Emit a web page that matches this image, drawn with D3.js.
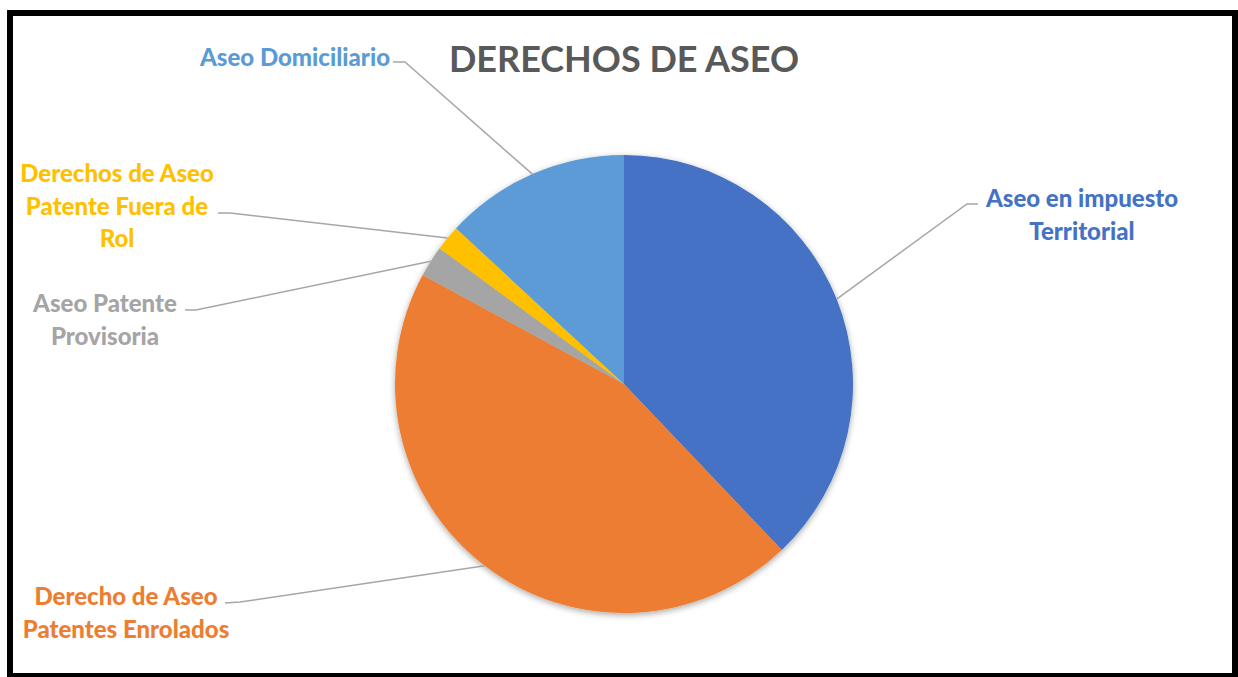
<!DOCTYPE html>
<html>
<head>
<meta charset="utf-8">
<script src="https://cdn.jsdelivr.net/npm/d3@7"></script>
<style>
  html, body { margin: 0; padding: 0; background: #fff; }
  text { font-family: Lato, "Open Sans", sans-serif; font-weight: bold; }
</style>
</head>
<body>
<div id="chart"></div>
<script>
// Slice data, clockwise from 12 o'clock
const categories = [
  'Aseo en impuesto Territorial',
  'Derecho de Aseo Patentes Enrolados',
  'Aseo Patente Provisoria',
  'Derechos de Aseo Patente Fuera de Rol',
  'Aseo Domiciliario'
];
const values = [37.9, 45.0, 2.2, 1.8, 13.1];
const labelLines = [
  ['Aseo en impuesto', 'Territorial'],
  ['Derecho de Aseo', 'Patentes Enrolados'],
  ['Aseo Patente', 'Provisoria'],
  ['Derechos de Aseo', 'Patente Fuera de', 'Rol'],
  ['Aseo Domiciliario']
];
const colors = ['#4472C4', '#ED7D31', '#A5A5A5', '#FFC000', '#5B9BD5'];

// Label placement (text centre, leader elbow and end)
const labelLayout = [
  { x: 1082, y: 197, anchor: 'middle', elbow: [967, 204], end: [978, 204] },
  { x: 126, y: 595, anchor: 'middle', elbow: [240, 602], end: [225, 603] },
  { x: 105, y: 302, anchor: 'middle', elbow: [196, 310], end: [185, 310] },
  { x: 117, y: 172, anchor: 'middle', elbow: [230, 213], end: [218, 213] },
  { x: 390, y: 56, anchor: 'end', elbow: [405, 62], end: [393, 62] }
];

const width = 1238, height = 677;
const cx = 624, cy = 384, radius = 229;
const lineHeight = 32.5;

const svg = d3.select('#chart')
  .append('svg')
  .attr('width', width)
  .attr('height', height);

// drop shadow for the pie
const defs = svg.append('defs');
defs.append('filter')
  .attr('id', 'shadow')
  .attr('x', '-20%').attr('y', '-20%').attr('width', '140%').attr('height', '140%')
  .append('feDropShadow')
  .attr('dx', 0).attr('dy', 2).attr('stdDeviation', 3)
  .attr('flood-color', '#000').attr('flood-opacity', 0.35);

// outer frame
svg.append('rect')
  .attr('x', 10).attr('y', 13)
  .attr('width', 1225).attr('height', 663)
  .attr('fill', 'none')
  .attr('stroke', '#000')
  .attr('stroke-width', 6);

// title
svg.append('text')
  .attr('x', cx)
  .attr('y', 72)
  .attr('text-anchor', 'middle')
  .attr('fill', '#595959')
  .style('font-size', '36px')
  .text('DERECHOS DE ASEO');

const pie = d3.pie().sort(null).value((d) => d);
const arcs = pie(values);
const arc = d3.arc().innerRadius(0).outerRadius(radius);

const g = svg.append('g')
  .attr('transform', `translate(${cx},${cy})`);

g.append('g')
  .attr('filter', 'url(#shadow)')
  .selectAll('path')
  .data(arcs)
  .join('path')
  .attr('d', arc)
  .attr('fill', (d, i) => colors[i]);

// leader lines from slice midpoint on the rim
const rimPoint = (d) => {
  const a = (d.startAngle + d.endAngle) / 2;
  return [cx + radius * Math.sin(a), cy - radius * Math.cos(a)];
};

svg.append('g')
  .selectAll('polyline')
  .data(arcs)
  .join('polyline')
  .attr('points', (d, i) => {
    const p = rimPoint(d);
    const l = labelLayout[i];
    return [p, l.elbow, l.end].map((q) => q.join(',')).join(' ');
  })
  .attr('fill', 'none')
  .attr('stroke', '#A6A6A6')
  .attr('stroke-width', 1.5);

// labels
const labels = svg.append('g')
  .selectAll('text')
  .data(arcs)
  .join('text')
  .attr('x', (d, i) => labelLayout[i].x)
  .attr('y', (d, i) => labelLayout[i].y)
  .attr('text-anchor', (d, i) => labelLayout[i].anchor)
  .attr('dominant-baseline', 'central')
  .attr('fill', (d, i) => colors[i])
  .style('font-size', '24px')
  .style('font-weight', 900);

labels.each(function (d, i) {
  const t = d3.select(this);
  labelLines[i].forEach((line, k) => {
    t.append('tspan')
      .attr('x', labelLayout[i].x)
      .attr('dy', k === 0 ? 0 : lineHeight)
      .text(line);
  });
});
</script>
</body>
</html>
